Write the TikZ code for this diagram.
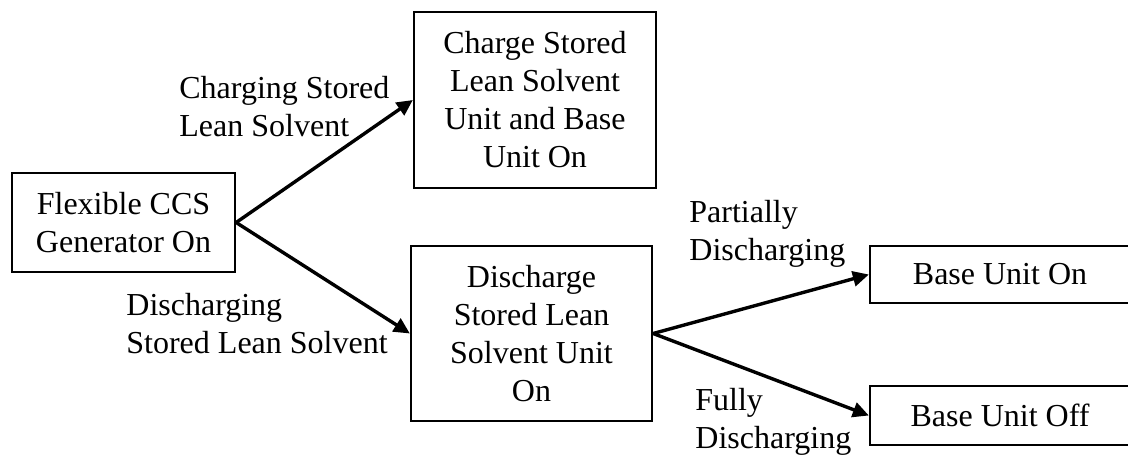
\documentclass[tikz,border=0pt]{standalone}
\usepackage{fontspec}
\setmainfont{Liberation Serif}
\usepackage{tikz}
\usetikzlibrary{arrows.meta}

\begin{document}
\begin{tikzpicture}[x=0.5pt,y=-0.5pt,
box/.style={draw,line width=1.15pt,align=center,inner sep=0pt,font=\fontsize{16}{19}\selectfont},
lab/.style={anchor=north west,align=left,inner sep=0pt,font=\fontsize{16}{19}\selectfont},
link/.style={-{Triangle[length=8pt,width=7.5pt]},line width=1.7pt}]
\useasboundingbox(0,0)rectangle(1128,456);
\node[box,minimum width=111.5pt,minimum height=49.5pt](gen)at(123.5,222.5){Flexible CCS\\Generator On};
\node[box,minimum width=121pt,minimum height=88pt](chg)at(535,100){Charge Stored\\Lean Solvent\\Unit and Base\\Unit On};
\node[box,minimum width=120.5pt,minimum height=87.5pt](dis)at(531.5,333.5){Discharge\\Stored Lean\\Solvent Unit\\On};
\node[box,minimum width=130pt,minimum height=28.5pt](bon)at(1000,274.5){Base Unit On};
\node[box,minimum width=130pt,minimum height=29.5pt](boff)at(1000,415.5){Base Unit Off};
\draw[link](gen.east)--(chg.west);
\draw[link](gen.east)--(dis.west);
\draw[link](dis.east)--(bon.west);
\draw[link](dis.east)--(boff.west);
\node[lab](l1)at(179,76){Charging Stored\\Lean Solvent};
\node[lab](l2)at(126,293){Discharging\\Stored Lean Solvent};
\node[lab](l3)at(689,200){Partially\\Discharging};
\node[lab](l4)at(695,388){Fully\\Discharging};
\end{tikzpicture}
\end{document}
